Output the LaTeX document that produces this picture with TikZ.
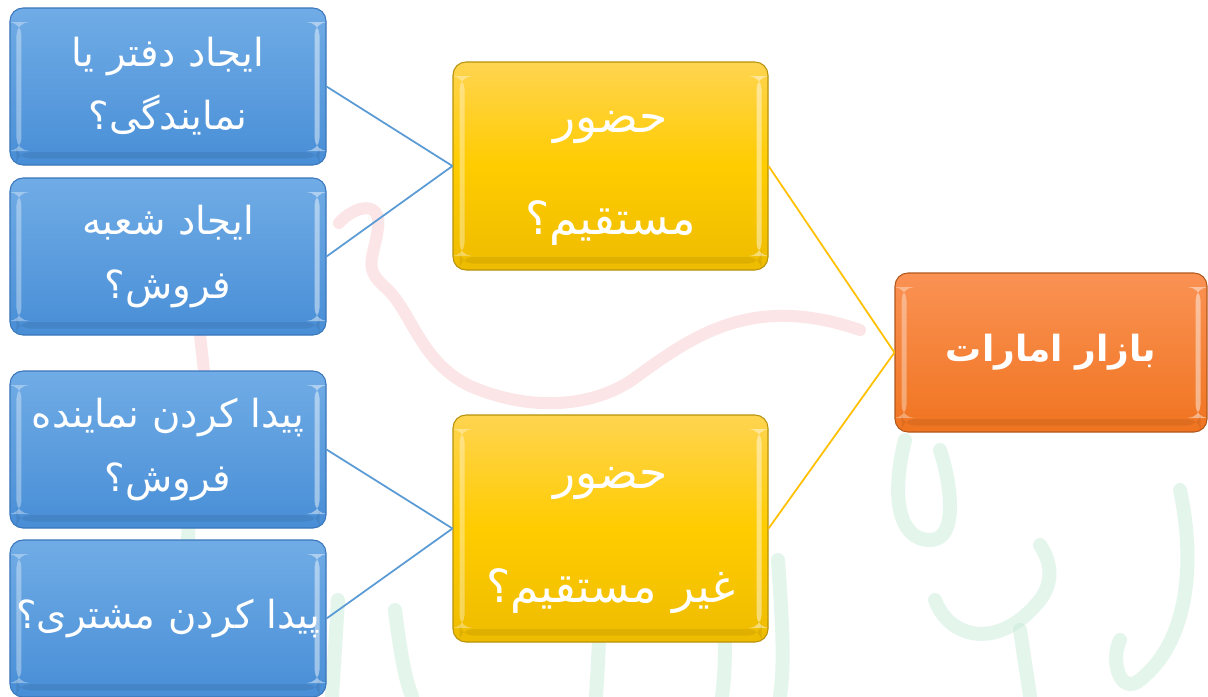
\documentclass[tikz,border=0pt]{standalone}
\usepackage{fontspec}
\newfontfamily\arabicfont[Script=Arabic]{DejaVu Sans}
\TeXXeTstate=1
\usetikzlibrary{shadings}

\definecolor{blueTop}{RGB}{112,172,230}
\definecolor{blueBot}{RGB}{72,142,214}
\definecolor{blueEdge}{RGB}{58,118,186}
\definecolor{yelTop}{RGB}{255,212,80}
\definecolor{yelMid}{RGB}{255,204,0}
\definecolor{yelBot}{RGB}{238,188,0}
\definecolor{yelEdge}{RGB}{184,146,10}
\definecolor{orTop}{RGB}{250,146,84}
\definecolor{orBot}{RGB}{240,116,32}
\definecolor{orEdge}{RGB}{178,88,28}
\definecolor{lineBlue}{RGB}{91,155,213}
\definecolor{lineYel}{RGB}{255,192,0}
\definecolor{wmRed}{RGB}{246,190,196}
\definecolor{wmGreen}{RGB}{196,234,214}

\tikzset{
  bevel/.style={path picture={
    \fill[white,opacity=.35]
      ([xshift=1.3mm,yshift=-2.8mm]path picture bounding box.north west)
      rectangle ([xshift=2.3mm,yshift=2.8mm]path picture bounding box.south west);
    \fill[white,opacity=.45]
      ([xshift=-2.3mm,yshift=-2.8mm]path picture bounding box.north east)
      rectangle ([xshift=-1.3mm,yshift=2.8mm]path picture bounding box.south east);
    \fill[black,opacity=.07]
      ([xshift=1.3mm,yshift=2.6mm]path picture bounding box.south west)
      rectangle ([xshift=-1.3mm,yshift=1.3mm]path picture bounding box.south east);
  }},
  box/.style={rectangle, rounded corners=2.6mm, line width=0.6pt, inner sep=0pt,
    text=white, align=center, bevel},
  bluebox/.style={box, draw=blueEdge, top color=blueTop, bottom color=blueBot,
    minimum width=63.2mm, minimum height=31.4mm, text width=61mm,
    font=\fontsize{22}{36}\selectfont\arabicfont},
  yelbox/.style={box, draw=yelEdge, top color=yelTop, bottom color=yelBot, middle color=yelMid,
    minimum width=63mm},
  yeltext/.style={inner sep=0pt, text=white, align=center, text width=60mm},
  orbox/.style={box, draw=orEdge, top color=orTop, bottom color=orBot,
    minimum width=62.4mm, minimum height=31.8mm, text width=60mm,
    font=\fontsize{20.5}{26}\selectfont\arabicfont\bfseries},
  bluelink/.style={draw=lineBlue, line width=1pt},
  yellink/.style={draw=lineYel, line width=1pt},
  wmred/.style={draw=wmRed, line width=2.4mm, line cap=round, opacity=.4},
  wmgreen/.style={draw=wmGreen, line width=2.8mm, line cap=round, opacity=.45},
}

\begin{document}
\begin{tikzpicture}[x=0.2mm, y=-0.2mm]
\useasboundingbox[fill=white] (0,0) rectangle (1208,696);

% faint calligraphic watermark behind the chart
\draw[wmred] (339,223) .. controls (355,205) and (382,200) .. (378,228)
  .. controls (374,258) and (362,268) .. (386,288)
  .. controls (412,312) and (420,362) .. (470,386)
  .. controls (540,416) and (600,402) .. (632,380)
  .. controls (690,338) and (750,292) .. (860,330);
\draw[wmred] (200,335) -- (205,380);
\draw[wmred] (582,470) .. controls (590,500) and (590,530) .. (584,560);
\draw[wmgreen] (185,440) .. controls (190,500) and (190,560) .. (182,600);
\draw[wmgreen] (338,600) -- (332,696);
\draw[wmgreen] (395,610) .. controls (400,650) and (405,680) .. (412,696);
\draw[wmgreen] (598,470) .. controls (602,560) and (600,640) .. (596,696);
\draw[wmgreen] (712,480) .. controls (720,560) and (730,640) .. (722,696);
\draw[wmgreen] (778,560) .. controls (782,620) and (785,660) .. (780,696);
\draw[wmgreen] (905,440) .. controls (890,500) and (900,540) .. (930,540)
  .. controls (960,540) and (950,480) .. (940,450);
\draw[wmgreen] (935,600) .. controls (950,640) and (1000,650) .. (1040,600)
  .. controls (1055,580) and (1050,560) .. (1040,545);
\draw[wmgreen] (1020,630) -- (1030,696);
\draw[wmgreen] (1180,490) .. controls (1195,560) and (1190,640) .. (1140,680)
  .. controls (1120,696) and (1110,660) .. (1120,640);

% question boxes on the left
\node[bluebox] (b1) at (168,86.5) {\beginR ایجاد دفتر یا\endR\\ \beginR نمایندگی؟\endR};
\node[bluebox] (b2) at (168,256.5) {\beginR ایجاد شعبه\endR\\ \beginR فروش؟\endR};
\node[bluebox] (b3) at (168,449.5) {\beginR پیدا کردن نماینده\endR\\ \beginR فروش؟\endR};
\node[bluebox] (b4) at (168,618.5) {\beginR پیدا کردن مشتری؟\endR};

% presence types
\node[yelbox, minimum height=41.6mm] (y1) at (610.5,166) {};
\node[yeltext, font=\fontsize{26}{58}\selectfont\arabicfont]
  (y1t) at ([yshift=-2.4mm]y1.center) {\beginR حضور\endR\\ \beginR مستقیم؟\endR};
\node[yelbox, minimum height=45.4mm] (y2) at (610.5,528.5) {};
\node[yeltext, font=\fontsize{26}{65}\selectfont\arabicfont]
  (y2t) at ([yshift=-2.4mm]y2.center) {\beginR حضور\endR\\ \beginR غیر مستقیم؟\endR};

% market
\node[orbox] (m) at (1051,352.5) {\beginR بازار امارات\endR};

% connectors
\draw[bluelink] (b1.east) -- (y1.west);
\draw[bluelink] (b2.east) -- (y1.west);
\draw[bluelink] (b3.east) -- (y2.west);
\draw[bluelink] (b4.east) -- (y2.west);
\draw[yellink] (y1.east) -- (m.west);
\draw[yellink] (y2.east) -- (m.west);
\end{tikzpicture}
\end{document}
